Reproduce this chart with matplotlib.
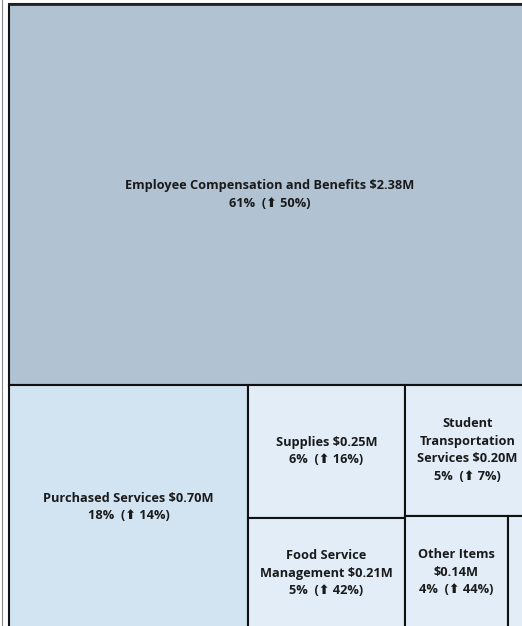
import textwrap
import matplotlib
matplotlib.use('Agg')
import matplotlib.pyplot as plt
from matplotlib.patches import Rectangle
from matplotlib.lines import Line2D

# spending by object ($M), share change vs last year (%)
categories = ['Employee Compensation and Benefits', 'Purchased Services', 'Supplies',
              'Food Service Management', 'Student Transportation Services', 'Other Items',
              'Remaining']
amounts = [2.38, 0.70, 0.25, 0.21, 0.196, 0.14, 0.03]
changes = [50, 14, 16, 42, 7, 44, 0]
colors = ['#b1c2d3', '#d2e3f1', '#e2edf7', '#e2edf7', '#e2edf7', '#e2edf7', '#e2edf7']


def worst(row, side):
    s = sum(row)
    return max(max(side * side * r / (s * s), s * s / (side * side * r)) for r in row)


def squarify(vals, x, y, w, h):
    # vals are already scaled to areas
    rects = []
    vals = list(vals)
    while vals:
        side = min(w, h)
        row = [vals.pop(0)]
        while vals and worst(row + [vals[0]], side) <= worst(row, side):
            row.append(vals.pop(0))
        s = sum(row)
        if w >= h:
            # column on the left
            cw = s / h
            yy = y
            for r in row:
                rects.append((x, yy, cw, r / cw))
                yy += r / cw
            x += cw
            w -= cw
        else:
            # row on top
            rh = s / w
            xx = x
            for r in row:
                rects.append((xx, y, r / rh, rh))
                xx += r / rh
            y += rh
            h -= rh
    return rects


fig = plt.figure(figsize=(5.22, 6.26), dpi=100)
ax = fig.add_axes([0, 0, 1, 1])
ax.set_xlim(0, 522)
ax.set_ylim(626, 0)
ax.axis('off')

X0, Y0, W, H = 9, 4, 521, 625
total = sum(amounts)
areas = [a / total * W * H for a in amounts]
rects = squarify(areas, X0, Y0, W, H)

for i, (x, y, w, h) in enumerate(rects):
    ax.add_patch(Rectangle((x, y), w, h, facecolor=colors[i], edgecolor='#111111',
                           linewidth=1.5))
    if w < 40:
        continue
    name = f"{categories[i]} ${amounts[i]:.2f}M"
    lines = textwrap.wrap(name, width=int((w - 8) / 7.2))
    pct = amounts[i] / total * 100
    lines.append(f"{pct:.0f}%  (\u2b06 {changes[i]}%)")
    ax.text(x + w / 2, y + h / 2, '\n'.join(lines), ha='center', va='center',
            fontsize=9.2, fontweight='bold', color='#1a1a1a', linespacing=1.45,
            family=['Open Sans', 'DejaVu Sans'])

# outer frame: page line on the far left, heavier top edge
fig.add_artist(Line2D([1.5 / 522, 1.5 / 522], [0, 1], color='#888888', lw=0.8))
ax.plot([X0, 522], [Y0, Y0], color='#222222', lw=2)

fig.savefig('out.png', dpi=100)
